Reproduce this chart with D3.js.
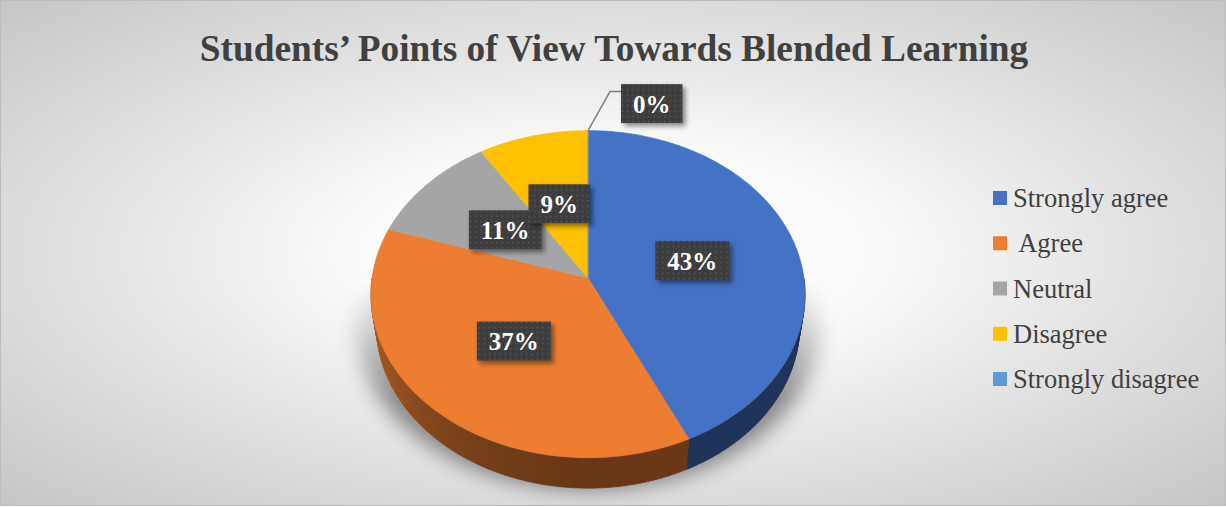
<!DOCTYPE html>
<html>
<head>
<meta charset="utf-8">
<script src="https://cdn.jsdelivr.net/npm/d3@7"></script>
<style>
  html, body { margin: 0; padding: 0; background: #fff; }
  svg { display: block; }
</style>
</head>
<body>
<svg id="chart" width="1226" height="507"></svg>
<script>
// Survey answers and their shares (percent)
const categories = ["Strongly agree", " Agree", "Neutral", "Disagree", "Strongly disagree"];
const percents = [43, 37, 11, 9, 0];
const colors = ["#4472C4", "#ED7D31", "#A5A5A5", "#FFC000", "#5B9BD5"];
const title = "Students\u2019 Points of View Towards Blended Learning";

const W = 1226, H = 507;
const svg = d3.select("#chart");
const defs = svg.append("defs");

// ---- background ----
const bg = defs.append("radialGradient").attr("id", "bgGrad")
  .attr("cx", 0.5).attr("cy", 0.5).attr("r", 0.71);
[[0, "#ffffff"], [0.3, "#fafafa"], [0.55, "#e6e6e6"], [1, "#c5c5c5"]]
  .forEach(([o, c]) => bg.append("stop").attr("offset", o).attr("stop-color", c));
svg.append("rect").attr("x", 0.5).attr("y", 0.5).attr("width", W - 1).attr("height", H - 2)
  .attr("fill", "url(#bgGrad)").attr("stroke", "#bdbdbd").attr("stroke-width", 1);

// ---- 3D pie projection ----
const cx = 588, cy = 278;          // projected centre of the top face
const F = 1447, D = 6.7;            // focal length, camera distance (radius units)
const sT = 0.75, cT = Math.sqrt(1 - sT * sT); // elevation angle
const depthH = 0.23;                // pie thickness (radius units)

function project(a, r, y) {
  const X = r * Math.sin(a), Z = r * Math.cos(a), Y = y;
  const dep = D + Z * cT - Y * sT;
  return [cx + F * X / dep, cy - F * (Z * sT + Y * cT) / dep];
}
function arcPoints(a0, a1, r, y) {
  const n = Math.max(2, Math.ceil(Math.abs(a1 - a0) / (Math.PI / 180)));
  return d3.range(n + 1).map(i => project(a0 + (a1 - a0) * i / n, r, y));
}
const line = d3.line();

const pie = d3.pie().sort(null).value(d => d);
const arcs = pie(percents);

// ---- soft shadow behind the pie ----
const blur = defs.append("filter").attr("id", "shadowBlur")
  .attr("x", "-30%").attr("y", "-30%").attr("width", "160%").attr("height", "160%");
blur.append("feGaussianBlur").attr("stdDeviation", 10);
const fade = defs.append("linearGradient").attr("id", "fadeGrad")
  .attr("gradientUnits", "userSpaceOnUse").attr("x1", 0).attr("y1", 280).attr("x2", 0).attr("y2", 400);
fade.append("stop").attr("offset", 0).attr("stop-color", "#fff").attr("stop-opacity", 0);
fade.append("stop").attr("offset", 1).attr("stop-color", "#fff").attr("stop-opacity", 1);
defs.append("mask").attr("id", "fadeMask").attr("maskUnits", "userSpaceOnUse")
  .attr("x", 0).attr("y", 0).attr("width", W).attr("height", H)
  .append("rect").attr("width", W).attr("height", H).attr("fill", "url(#fadeGrad)");

const rim = arcPoints(0, 2 * Math.PI, 1, -depthH);
svg.append("g").attr("mask", "url(#fadeMask)")
  .append("path")
  .attr("d", line(rim) + "Z")
  .attr("transform", `translate(${cx},${cy + 2}) scale(1.09,1.0) translate(${-cx},${-cy})`)
  .attr("fill", "#000").attr("opacity", 0.42)
  .attr("filter", "url(#shadowBlur)");

// ---- outer walls (front half only), shaded by angle ----
const walls = svg.append("g");
const front0 = Math.PI / 2, front1 = 3 * Math.PI / 2;
arcs.forEach((d, i) => {
  const a0 = Math.max(d.startAngle, front0), a1 = Math.min(d.endAngle, front1);
  if (a1 <= a0) return;
  const step = Math.PI / 180;
  for (let a = a0; a < a1; a += step) {
    const b = Math.min(a + step * 1.05, a1);
    const t = Math.max(0, Math.min(1, (front1 - (a + b) / 2) / (Math.PI / 2)));
    const k = 0.95 + 1.3 * (t * t * (3 - 2 * t));
    const c = d3.color(colors[i]).darker(k).formatHex();
    const pts = [project(a, 1, 0), project(b, 1, 0), project(b, 1, -depthH), project(a, 1, -depthH)];
    walls.append("path").attr("d", line(pts) + "Z")
      .attr("fill", c).attr("stroke", c).attr("stroke-width", 0.6);
  }
});

// ---- top faces ----
svg.append("g").selectAll("path").data(arcs).join("path")
  .attr("d", d => line([[cx, cy], ...arcPoints(d.startAngle, d.endAngle, 1, 0)]) + "Z")
  .attr("fill", (d, i) => colors[i])
  .attr("stroke", (d, i) => colors[i]).attr("stroke-width", 0.6);

// ---- data labels ----
const pat = defs.append("pattern").attr("id", "dots")
  .attr("patternUnits", "userSpaceOnUse").attr("width", 5.3).attr("height", 5.3);
pat.append("rect").attr("width", 5.3).attr("height", 5.3).attr("fill", "#3e3e3e");
pat.append("rect").attr("x", 1.6).attr("y", 1.6).attr("width", 1.4).attr("height", 1.4).attr("fill", "#5a5a5a");
const ds = defs.append("filter").attr("id", "boxShadow")
  .attr("x", "-30%").attr("y", "-30%").attr("width", "170%").attr("height", "180%");
ds.append("feDropShadow").attr("dx", 3).attr("dy", 3).attr("stdDeviation", 2.5)
  .attr("flood-color", "#000").attr("flood-opacity", 0.45);

const labelFont = "'Liberation Serif', 'Times New Roman', serif";
const labels = svg.append("g");
function drawLabel(x, y, text) {
  const g = labels.append("g").attr("transform", `translate(${x},${y})`);
  const t = g.append("text").attr("text-anchor", "middle").attr("y", 9)
    .attr("font-family", labelFont).attr("font-weight", "bold").attr("font-size", 25)
    .attr("fill", "#ffffff").text(text);
  const w = t.node().getComputedTextLength() + 24, h = 39;
  g.insert("rect", "text").attr("x", -w / 2).attr("y", -h / 2).attr("width", w).attr("height", h)
    .attr("fill", "url(#dots)").attr("filter", "url(#boxShadow)");
  return w;
}

arcs.forEach((d, i) => {
  if (d.endAngle - d.startAngle > 1e-6) {
    const mid = (d.startAngle + d.endAngle) / 2;
    const [x, y] = project(mid, 0.5, 0);
    drawLabel(x, y, percents[i] + "%");
  } else {
    // empty slice: label sits outside with a leader line
    const [ax, ay] = project(d.startAngle, 1, 0);
    const ex = ax + 22, ey = ay - 39;
    svg.append("path").attr("d", line([[ax, ay], [ex, ey], [ex + 11, ey]]))
      .attr("fill", "none").attr("stroke", "#7f7f7f").attr("stroke-width", 1.5);
    const tmp = labels.append("text").attr("font-family", labelFont).attr("font-weight", "bold")
      .attr("font-size", 25).text(percents[i] + "%");
    const w = tmp.node().getComputedTextLength() + 24; tmp.remove();
    drawLabel(ex + 11 + w / 2, ey + 12, percents[i] + "%");
  }
});

// ---- legend ----
const legendY = d3.scalePoint().domain(categories).range([198, 379]);
const legend = svg.append("g").selectAll("g").data(categories).join("g")
  .attr("transform", d => `translate(993,${legendY(d)})`);
legend.append("rect").attr("x", 0).attr("y", -7).attr("width", 14).attr("height", 14)
  .attr("fill", (d, i) => colors[i]);
legend.append("text").attr("x", 20).attr("y", 9)
  .attr("font-family", labelFont).attr("font-size", 26.5).attr("fill", "#404040")
  .style("white-space", "pre").text(d => d);

// ---- title ----
svg.append("text").attr("x", 614).attr("y", 61).attr("text-anchor", "middle")
  .attr("font-family", labelFont).attr("font-weight", "bold").attr("font-size", 37.3)
  .attr("fill", "#404040").text(title);
</script>
</body>
</html>
